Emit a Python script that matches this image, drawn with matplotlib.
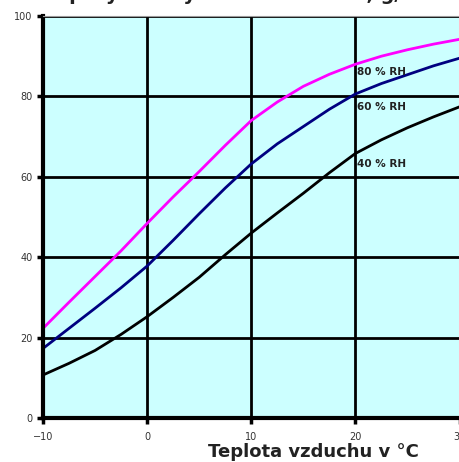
import matplotlib.pyplot as plt
import numpy as np

# air temperature (deg C)
temps = [-10, -7.5, -5, -2.5, 0, 2.5, 5, 7.5, 10, 12.5, 15, 17.5, 20, 22.5, 25, 27.5, 30]
rh80 = [22.3, 28.8, 35.2, 41.6, 48.4, 55.0, 61.3, 67.8, 74.0, 78.6, 82.5, 85.5, 88.0, 90.0, 91.6, 93.0, 94.2]
rh60 = [17.3, 22.3, 27.3, 32.4, 37.8, 44.2, 50.8, 57.2, 63.2, 68.2, 72.5, 76.8, 80.6, 83.2, 85.4, 87.6, 89.5]
rh40 = [10.7, 13.6, 16.8, 20.8, 25.2, 30.0, 35.0, 40.6, 46.0, 51.0, 55.9, 61.0, 65.8, 69.2, 72.2, 74.9, 77.4]

labels = ["80 % RH", "60 % RH", "40 % RH"]
label_y = [86.1, 77.3, 63.3]

fig = plt.figure(figsize=(4.6, 4.62), dpi=100)
ax = fig.add_axes([43 / 460, 1 - 418 / 462, 416.5 / 460, 402 / 462])
ax.set_facecolor("#ccffff")

ax.plot(temps, rh80, color="#ff00ff", lw=2, solid_joinstyle="round")
ax.plot(temps, rh60, color="#000080", lw=2, solid_joinstyle="round")
ax.plot(temps, rh40, color="black", lw=2, solid_joinstyle="round")

for lab, yy in zip(labels, label_y):
    ax.text(20.15, yy, lab, fontsize=7.5, fontweight="bold", va="center", ha="left",
            color="#222222")

ax.set_xlim(-10, 30)
ax.set_ylim(0, 100)
ax.set_xticks([-10, 0, 10, 20, 30])
ax.set_yticks([0, 20, 40, 60, 80, 100])
ax.grid(True, color="black", lw=2)
ax.tick_params(direction="out", length=4, width=2.5, labelsize=7, color="black",
               labelcolor="#333333")
ax.tick_params(axis="x", pad=6)

ax.spines["left"].set_linewidth(3)
ax.spines["bottom"].set_linewidth(3)
ax.spines["top"].set_color("#999999")
ax.spines["top"].set_linewidth(0.8)
ax.spines["right"].set_visible(False)

fig.text(313 / 460, 1 - 452 / 462, "Teplota vzduchu v °C", fontsize=13,
         fontweight="bold", ha="center", va="center", color="#222222")
# title is cut off at the top in the reference, only descenders show
fig.text(178 / 460, 1 + 0.5 / 462, "Obsah vodní páry v nasyceném vzduchu, g/m³",
         fontsize=14, fontweight="bold", ha="center", va="baseline", color="#222222")

fig.savefig("out.png", dpi=100)
